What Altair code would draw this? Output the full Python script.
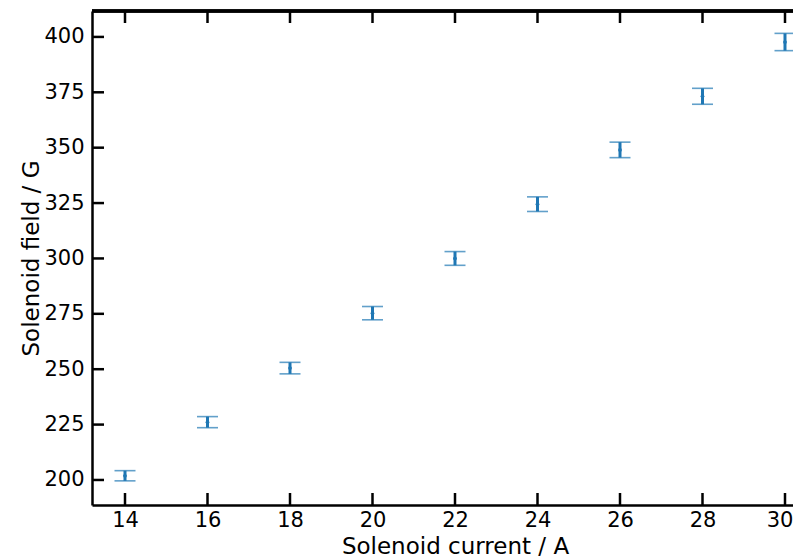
import altair as alt
import pandas as pd

current = [14, 16, 18, 20, 22, 24, 26, 28, 30]
field = [201.9, 226.1, 250.5, 275.3, 300.0, 324.5, 349.0, 373.2, 397.7]
field_err = [2.3, 2.5, 2.6, 3.0, 3.1, 3.3, 3.5, 3.6, 3.9]

x_ticks = [14, 16, 18, 20, 22, 24, 26, 28, 30]
y_ticks = [200, 225, 250, 275, 300, 325, 350, 375, 400]

W, H = 701, 494
COLOR = "#1f77b4"
FONT = "DejaVu Sans"

df = pd.DataFrame({"x": current, "y": field, "err": field_err})
df["lo"] = df["y"] - df["err"]
df["hi"] = df["y"] + df["err"]

xs = alt.Scale(domain=[13.2, 30.194], nice=False, zero=False)
ys = alt.Scale(domain=[188.7, 411.7], nice=False, zero=False)

x_axis = alt.Axis(
    values=x_ticks, ticks=False, tickSize=0, grid=False,
    domainColor="black", domainWidth=2.5,
    labelFont=FONT, labelFontSize=21, labelColor="black",
    labelBaseline="alphabetic", labelPadding=21,
    labelFlush=10, labelFlushOffset=8,
    title="Solenoid current / A", titleFont=FONT, titleFontSize=23,
    titleFontWeight="normal", titleColor="black",
    titleBaseline="alphabetic", titleX=363, titleY=48, titleAlign="center",
)
y_axis = alt.Axis(
    values=y_ticks, ticks=False, tickSize=0, grid=False,
    domainColor="black", domainWidth=2.5,
    labelFont=FONT, labelFontSize=21, labelColor="black",
    labelPadding=8,
    title="Solenoid field / G", titleFont=FONT, titleFontSize=23,
    titleFontWeight="normal", titleColor="black",
    titleBaseline="alphabetic", titleX=-54, titleAngle=-90,
)

base = alt.Chart(df)

bars = base.mark_rule(color=COLOR, strokeWidth=3).encode(
    x=alt.X("x:Q", scale=xs, axis=x_axis),
    y=alt.Y("lo:Q", scale=ys, axis=y_axis),
    y2="hi:Q",
)
cap_lo = base.mark_tick(color=COLOR, orient="horizontal", size=21, thickness=1.6).encode(
    x=alt.X("x:Q", scale=xs), y=alt.Y("lo:Q", scale=ys)
)
cap_hi = base.mark_tick(color=COLOR, orient="horizontal", size=21, thickness=1.6).encode(
    x=alt.X("x:Q", scale=xs), y=alt.Y("hi:Q", scale=ys)
)
pts = base.mark_point(color=COLOR, filled=True, size=14, opacity=1).encode(
    x=alt.X("x:Q", scale=xs), y=alt.Y("y:Q", scale=ys)
)

ydf = pd.DataFrame({"v": y_ticks})
xdf = pd.DataFrame({"v": x_ticks})

ytk = alt.Chart(ydf).mark_rule(color="black", strokeWidth=2.5).encode(
    y=alt.Y("v:Q", scale=ys), x=alt.value(0), x2=alt.value(12)
)
xtk_b = alt.Chart(xdf).mark_rule(color="black", strokeWidth=2.5).encode(
    x=alt.X("v:Q", scale=xs), y=alt.value(H), y2=alt.value(H - 12)
)
xtk_t = alt.Chart(xdf).mark_rule(color="black", strokeWidth=2.5).encode(
    x=alt.X("v:Q", scale=xs), y=alt.value(0), y2=alt.value(12)
)
top_spine = alt.Chart(xdf).mark_rule(color="black", strokeWidth=2.5).encode(
    x=alt.value(0), x2=alt.value(W), y=alt.value(0)
)

chart = alt.layer(bars, cap_lo, cap_hi, pts, ytk, xtk_b, xtk_t, top_spine).properties(
    width=W, height=H,
    autosize=alt.AutoSizeParams(type="none"),
    padding={"left": 84, "top": 3, "right": 0, "bottom": 53},
).configure_view(stroke=None)

chart.save("out.html", embed_options={"renderer": "svg", "actions": False})
